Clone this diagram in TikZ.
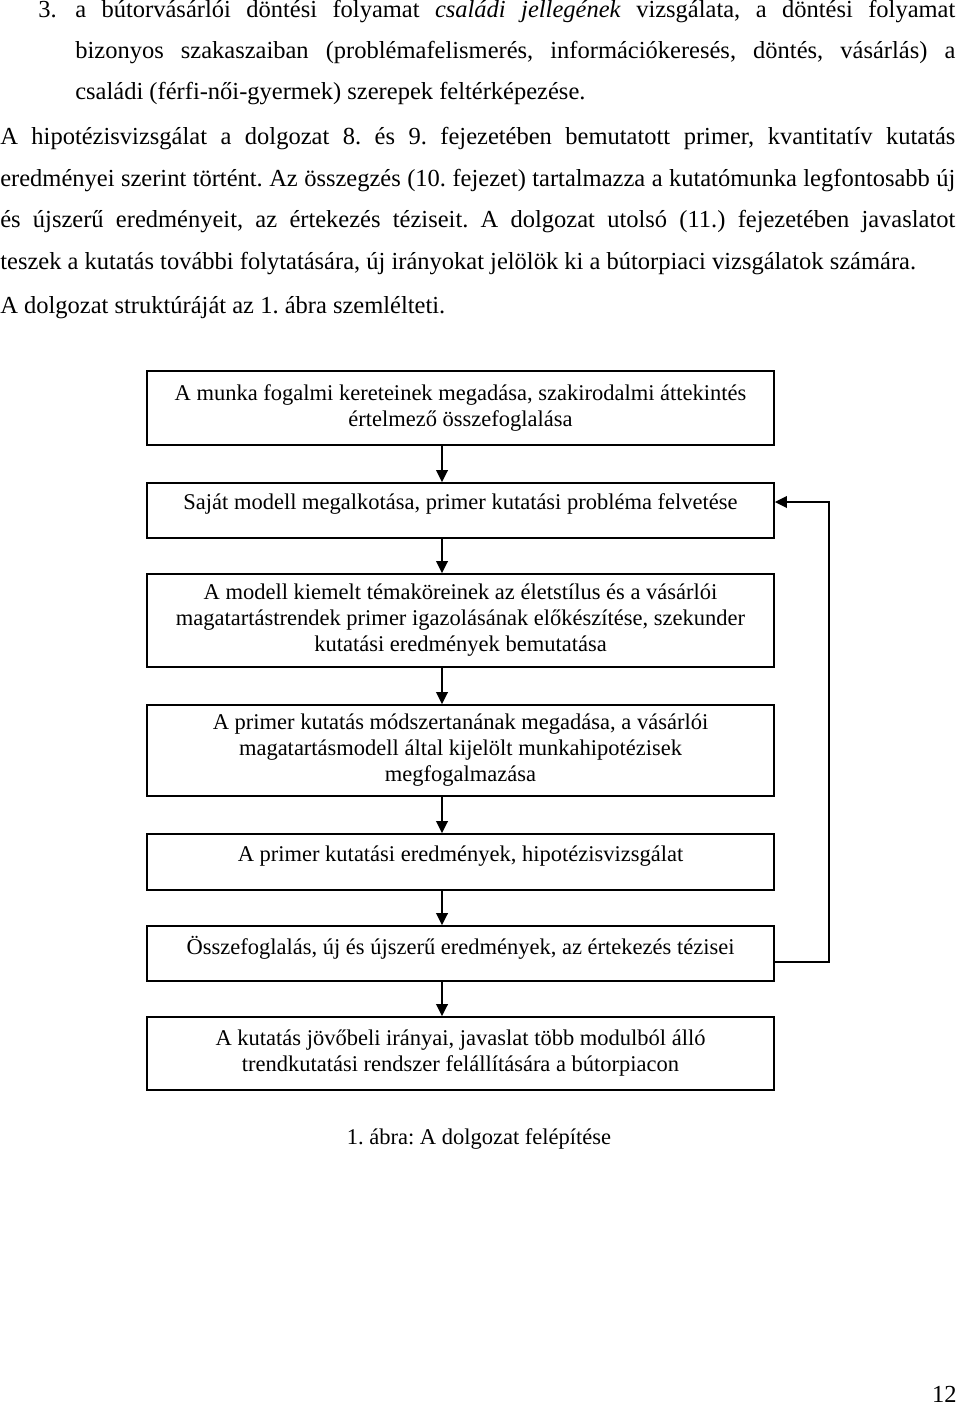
\documentclass[tikz,border=0pt]{standalone}
\usepackage{fontspec}
\setmainfont{Liberation Serif}
\usetikzlibrary{arrows.meta}
\frenchspacing
\tikzset{
  box/.style={draw, line width=1.1pt, minimum width=376.2pt, align=center, inner sep=0pt,
    font=\fontsize{13.5}{15.6}\selectfont},
  arr/.style={line width=1.1pt, -{Triangle[length=7.2pt,width=7pt]}},
  txt/.style={anchor=base west, inner sep=0pt, font=\fontsize{14.7}{18}\selectfont},
}
\newcommand{\up}[1]{\raisebox{3.6pt}[\height][\depth]{#1}}
\begin{document}
\frenchspacing
\begin{tikzpicture}[x=0.6pt,y=-0.6pt]
\useasboundingbox (0,0) rectangle (960,1412);
% body text
\node[txt] (n3) at (38,18) {3.};
\node[txt] (l1) at (75,18) {\makebox[528pt][s]{a bútorvásárlói döntési folyamat \textit{családi jellegének} vizsgálata, a döntési folyamat}};
\node[txt] (l2) at (75,59) {\makebox[528pt][s]{bizonyos szakaszaiban (problémafelismerés, információkeresés, döntés, vásárlás) a}};
\node[txt] (l3) at (75,100) {családi (férfi-női-gyermek) szerepek feltérképezése.};
\node[txt] (l4) at (0,145) {\makebox[573pt][s]{A hipotézisvizsgálat a dolgozat 8. és 9. fejezetében bemutatott primer, kvantitatív kutatás}};
\node[txt] (l5) at (0,187) {\makebox[573pt][s]{eredményei szerint történt. Az összegzés (10. fejezet) tartalmazza a kutatómunka legfontosabb új}};
\node[txt] (l6) at (0,228) {\makebox[573pt][s]{és újszerű eredményeit, az értekezés téziseit. A dolgozat utolsó (11.) fejezetében javaslatot}};
\node[txt] (l7) at (0,270) {teszek a kutatás további folytatására, új irányokat jelölök ki a bútorpiaci vizsgálatok számára.};
\node[txt] (l8) at (0,313) {A dolgozat struktúráját az 1. ábra szemlélteti.};
% boxes
\node[box, minimum height=44.4pt] (b1) at (460.5,408) {A munka fogalmi kereteinek megadása, szakirodalmi áttekintés\\ értelmező összefoglalása};
\node[box, minimum height=33pt] (b2) at (460.5,510.5) {\up{Saját modell megalkotása, primer kutatási probléma felvetése}};
\node[box, minimum height=55.8pt] (b3) at (460.5,620.5) {A modell kiemelt témaköreinek az életstílus és a vásárlói\\ magatartástrendek primer igazolásának előkészítése, szekunder\\ kutatási eredmények bemutatása};
\node[box, minimum height=54.6pt] (b4) at (460.5,750.5) {A primer kutatás módszertanának megadása, a vásárlói\\ magatartásmodell által kijelölt munkahipotézisek\\ megfogalmazása};
\node[box, minimum height=33.6pt] (b5) at (460.5,862) {\up{A primer kutatási eredmények, hipotézisvizsgálat}};
\node[box, minimum height=33pt] (b6) at (460.5,953.5) {\up{Összefoglalás, új és újszerű eredmények, az értekezés tézisei}};
\node[box, minimum height=43.8pt] (b7) at (460.5,1053.5) {A kutatás jövőbeli irányai, javaslat több modulból álló\\ trendkutatási rendszer felállítására a bútorpiacon};
% arrows
\coordinate (ax) at (442,0);
\coordinate (fb) at (829,0);
\draw[arr] (b1.south -| ax) -- (b2.north -| ax);
\draw[arr] (b2.south -| ax) -- (b3.north -| ax);
\draw[arr] (b3.south -| ax) -- (b4.north -| ax);
\draw[arr] (b4.south -| ax) -- (b5.north -| ax);
\draw[arr] (b5.south -| ax) -- (b6.north -| ax);
\draw[arr] (b6.south -| ax) -- (b7.north -| ax);
\draw[arr] ([yshift=-5.1pt]b6.east) -- ([yshift=-5.1pt]b6.east -| fb) -- ([yshift=5.1pt]b2.east -| fb) -- ([yshift=5.1pt]b2.east);
% caption and page number
\node[box, draw=none, anchor=base] (cap) at (479,1144) {1. ábra: A dolgozat felépítése};
\node[txt, anchor=base east] (pg) at (957,1402) {12};
\end{tikzpicture}
\end{document}
